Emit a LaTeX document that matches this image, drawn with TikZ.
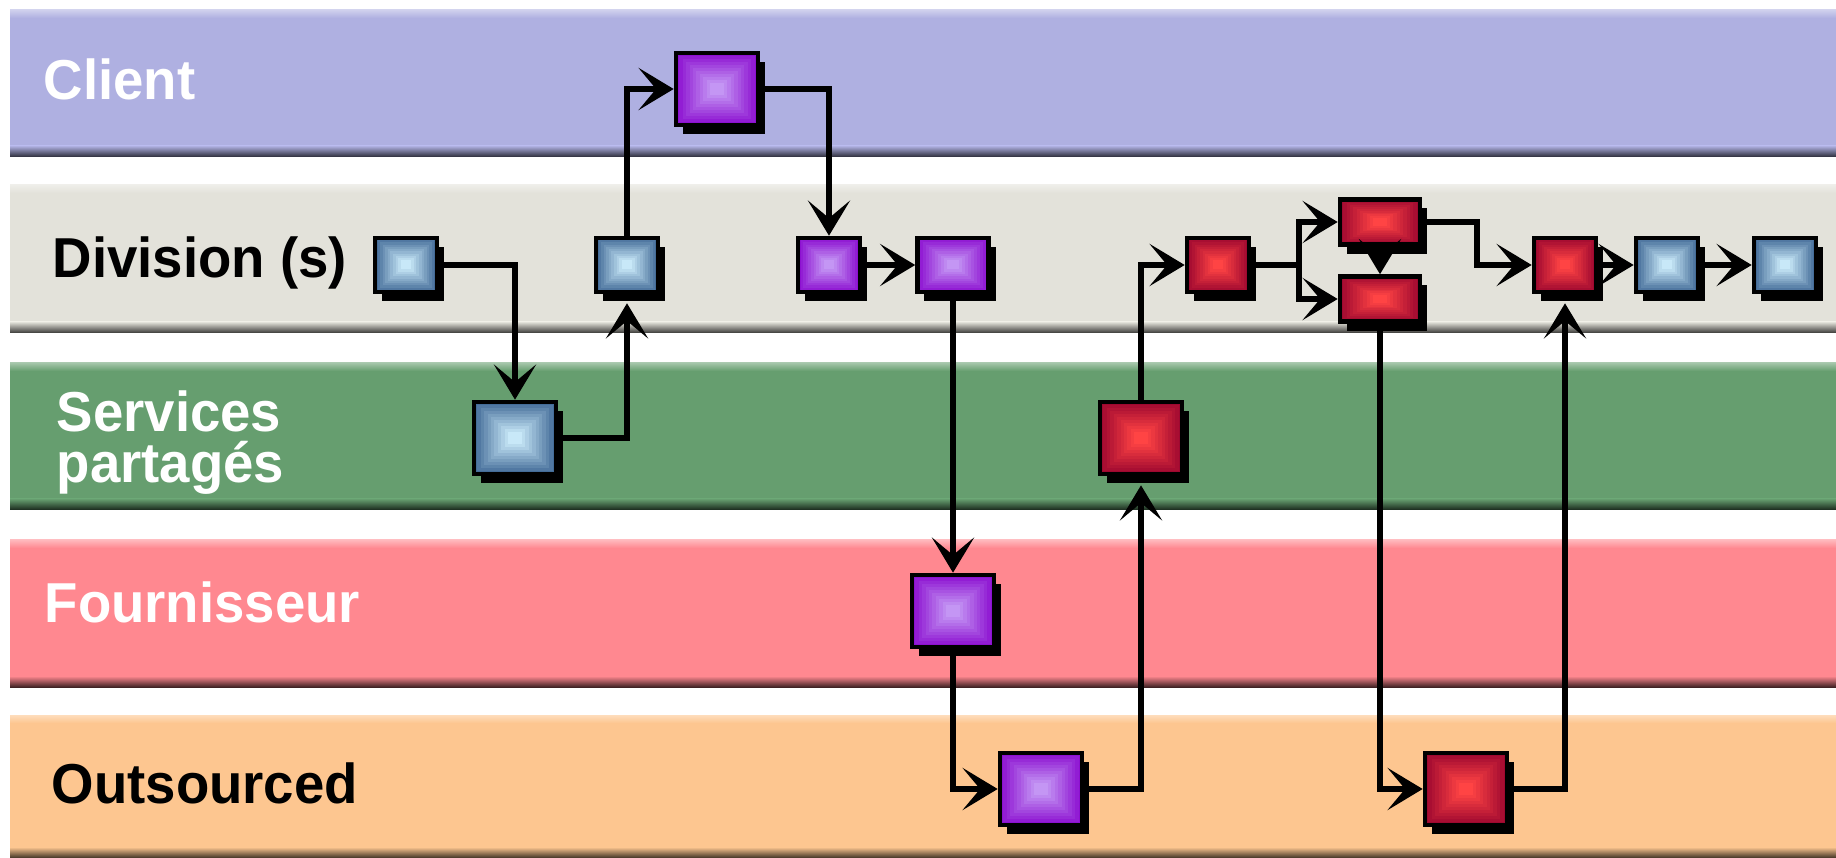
\documentclass[tikz,border=0pt]{standalone}
\usepackage{fontspec}
\setmainfont{Liberation Sans}[FakeStretch=0.97]
\usetikzlibrary{arrows.meta,calc,shadows}

\definecolor{clientlane}{RGB}{175,176,225}
\definecolor{divlane}{RGB}{227,226,218}
\definecolor{servlane}{RGB}{102,158,111}
\definecolor{suplane}{RGB}{255,136,144}
\definecolor{outlane}{RGB}{253,198,144}
\definecolor{blueedge}{RGB}{68,108,152}
\definecolor{bluemid}{RGB}{200,232,248}
\definecolor{purpleedge}{RGB}{140,16,208}
\definecolor{purplemid}{RGB}{196,150,244}
\definecolor{rededge}{RGB}{158,8,48}
\definecolor{redmid}{RGB}{255,68,68}

\begin{document}
\begin{tikzpicture}[x=0.01cm, y=-0.01cm,
        lanelabel/.style={font=\bfseries\fontsize{16}{14.5}\selectfont, inner sep=0pt, anchor=base west},
        task/.style 2 args={draw=black, line width=1.3pt, inner sep=0pt,
            minimum width=0.62cm, minimum height=0.54cm,
            drop shadow={shadow xshift=0.07cm, shadow yshift=-0.09cm, fill=black, opacity=1},
            path picture={
                \foreach \k [evaluate=\k as \pct using int(10*\k)] in {0,...,10}
                    \fill[#2!\pct!#1] ($(path picture bounding box.south west)!\k/24!(path picture bounding box.north east)$)
                        rectangle ($(path picture bounding box.north east)!\k/24!(path picture bounding box.south west)$);
            }},
        bluetask/.style={task={blueedge}{bluemid}},
        purpletask/.style={task={purpleedge}{purplemid}},
        redtask/.style={task={rededge}{redmid}},
        big/.style={minimum width=0.82cm, minimum height=0.72cm},
        flat/.style={minimum width=0.80cm, minimum height=0.45cm},
        link/.style={line width=1.5pt},
        flow/.style={link, -{Stealth[length=10pt, width=12pt, inset=5pt]}}]
    \useasboundingbox (0,0) rectangle (1836,858);

    % swim lanes
    \foreach \ytop/\ybot/\col in {10/157/clientlane, 185/333/divlane, 363/510/servlane,
                                  540/687/suplane, 715/858/outlane} {
        \fill[\col] (10,\ytop) rectangle (1836,\ybot);
        \shade[top color=\col!60!white, bottom color=\col] (10,\ytop) rectangle (1836,\ytop+8);
        \shade[top color=\col, bottom color=\col!25!black] (10,\ybot-11) rectangle (1836,\ybot);
    }

    \node[lanelabel, text=white] (client) at (43,100) {Client};
    \node[lanelabel] (division) at (52,278) {Division (s)};
    \node[lanelabel, text=white, anchor=west, align=left] (services) at (56,443) {Services\\partagés};
    \node[lanelabel, text=white] (supplier) at (44,623) {Fournisseur};
    \node[lanelabel] (outsourced) at (51,803) {Outsourced};

    % tasks
    \node[bluetask] (B1) at (406,265) {};
    \node[bluetask] (B2) at (627,265) {};
    \node[bluetask, big] (B3) at (515,438) {};
    \node[purpletask, big] (P1) at (717,89) {};
    \node[purpletask] (P2) at (829,265) {};
    \node[purpletask, minimum width=0.71cm] (P3) at (953,265) {};
    \node[purpletask, big] (P4) at (953,611) {};
    \node[purpletask, big] (P5) at (1041,789) {};
    \node[redtask, big] (R5) at (1141,438) {};
    \node[redtask] (R1) at (1218,265) {};
    \node[redtask, flat] (R2) at (1380,222) {};
    \node[redtask, flat] (R3) at (1380,299) {};
    \node[redtask] (R4) at (1565,265) {};
    \node[bluetask] (B4) at (1667,265) {};
    \node[bluetask] (B5) at (1785,265) {};
    \node[redtask, big] (R6) at (1466,789) {};
    \coordinate (fork) at (1299,265);
    \coordinate (join) at (1477,265);

    % flows
    \draw[flow] (B1) -| (B3);
    \draw[flow, shorten >=0.09cm] (B3) -| (B2);
    \draw[flow] (B2) |- (P1);
    \draw[flow] (P1) -| (P2);
    \draw[flow] (P2) -- (P3);
    \draw[flow] (P3) -- (P4);
    \draw[flow] (P4) |- (P5);
    \draw[flow, shorten >=0.09cm] (P5) -| (R5);
    \draw[flow] (R5) |- (R1);
    \draw[link] (R1) -- (fork);
    \draw[flow] (fork) |- (R2);
    \draw[flow] (fork) |- (R3);
    \draw[flow] (R2) -- (R3);
    \draw[flow] (R2) -| (join) -- (R4);
    \draw[flow] (R4) -- (B4);
    \draw[flow] (B4) -- (B5);
    \draw[flow] (R3) |- (R6);
    \draw[flow, shorten >=0.09cm] (R6) -| (R4);
\end{tikzpicture}
\end{document}
